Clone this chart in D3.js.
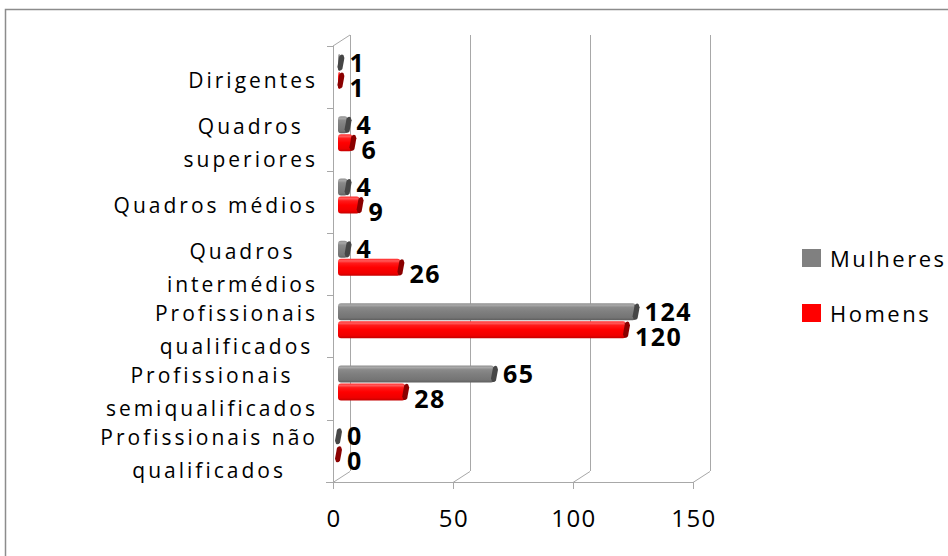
<!DOCTYPE html>
<html><head><meta charset="utf-8">
<script src="https://cdn.jsdelivr.net/npm/d3@7"></script>
<style>body{margin:0;background:#fff}svg{display:block}</style>
</head><body>
<svg id="c" width="948" height="556"></svg>
<script>
const categories = ["Dirigentes","Quadros superiores","Quadros médios","Quadros intermédios","Profissionais qualificados","Profissionais semiqualificados","Profissionais não qualificados"];
const mulheres = [1,4,4,4,124,65,0];
const homens = [1,6,9,26,120,28,0];
const xTicks = [0,50,100,150];
const seriesNames = ["Mulheres","Homens"];

const svg = d3.select("#c");
const FONT = "'Open Sans', sans-serif";
const depth = {dx:17, dy:-11};
const x = d3.scaleLinear().domain([0,150]).range([333,693]);
const y = d3.scaleBand().domain(categories).range([46,482]);
const yTop = 46, yBot = 482;

// outer border
svg.append("rect").attr("x",5.5).attr("y",9.5).attr("width",960).attr("height",560)
  .attr("fill","none").attr("stroke","#8c8c8c").attr("stroke-width",1.5);

const grid = svg.append("g").attr("stroke","#a8a8a8").attr("stroke-width",1).attr("fill","none");
xTicks.forEach(v=>{
  const xb = x(v)+depth.dx;
  grid.append("line").attr("x1",xb+0.5).attr("x2",xb+0.5).attr("y1",yTop+depth.dy).attr("y2",yBot+depth.dy);
  grid.append("line").attr("x1",x(v)).attr("y1",yBot+0.5).attr("x2",xb).attr("y2",yBot+depth.dy+0.5);
  grid.append("line").attr("x1",x(v)+0.5).attr("x2",x(v)+0.5).attr("y1",yBot).attr("y2",yBot+7);
});
grid.append("line").attr("x1",326).attr("x2",x(150)).attr("y1",yBot+0.5).attr("y2",yBot+0.5);
grid.append("line").attr("x1",x(0)+0.5).attr("x2",x(0)+0.5).attr("y1",yTop).attr("y2",yBot);
grid.append("line").attr("x1",x(0)).attr("y1",yTop).attr("x2",x(0)+depth.dx).attr("y2",yTop+depth.dy);
const bounds = categories.map(c=>y(c)).concat([yBot]);
bounds.forEach(b=>{
  grid.append("line").attr("x1",327).attr("x2",x(0)).attr("y1",Math.round(b)+0.5).attr("y2",Math.round(b)+0.5);
});

const defs = svg.append("defs");
function grad(id, stops){
  const g = defs.append("linearGradient").attr("id",id).attr("x1",0).attr("y1",0).attr("x2",0).attr("y2",1);
  stops.forEach(s=>g.append("stop").attr("offset",s[0]).attr("stop-color",s[1]));
}
grad("gGray",[[0,"#8e8e8e"],[0.12,"#a8a8a8"],[0.25,"#8a8a8a"],[0.5,"#7f7f7f"],[0.85,"#747474"],[1,"#5e5e5e"]]);
grad("gRed",[[0,"#ff2a2a"],[0.12,"#ff5a5a"],[0.25,"#ff1a1a"],[0.5,"#ff0000"],[0.85,"#ee0000"],[1,"#c40000"]]);

const series = [
  {name:seriesNames[0], values:mulheres, fill:"url(#gGray)", cap:"#464646", off:8, lab:-1, legend:"#808080"},
  {name:seriesNames[1], values:homens, fill:"url(#gRed)", cap:"#8a0000", off:26, lab:6, legend:"#ff0000"}
];
const barH = 17, barX0 = 5;
const bars = svg.append("g");
series.forEach(s=>{
  categories.forEach((c,i)=>{
    const v = s.values[i];
    const x0 = x(0)+barX0, xe = x(v)+barX0;
    const t = y(c)+s.off, b = t+barH;
    if (v>0){
      bars.append("rect").attr("x",x0).attr("y",t).attr("width",xe-x0).attr("height",barH)
        .attr("rx",3).attr("fill",s.fill);
    }
    const p = d3.path();
    p.moveTo(xe-1, t+2);
    p.quadraticCurveTo(xe+1, t-0.5, xe+3, t+1);
    p.lineTo(xe+4, t+4);
    p.lineTo(xe+2, b-2);
    p.quadraticCurveTo(xe, b+0.5, xe-2, b-1);
    p.lineTo(xe-3, b-4);
    p.closePath();
    bars.append("path").attr("d",p.toString()).attr("fill",s.cap);
    svg.append("text").attr("x",xe+9).attr("y",(t+b)/2+s.lab).attr("dominant-baseline","central")
      .attr("font-family",FONT).attr("font-weight","bold").attr("font-size",25)
      .attr("letter-spacing",1.5).attr("fill","#000").text(v);
  });
});

const labG = svg.append("g").attr("font-family",FONT).attr("font-size",21).attr("letter-spacing",3).attr("fill","#000");
function measure(str){
  const t = labG.append("text").text(str);
  const w = t.node().getComputedTextLength();
  t.remove(); return w;
}
const maxW = 235, lineH = 33, rightEdge = 318;
categories.forEach(c=>{
  const words = c.split(" ");
  const lines = [];
  let cur = "";
  words.forEach(w=>{
    const test = cur ? cur+" "+w : w;
    if (cur && measure(test) > maxW){ lines.push(cur); cur = w; } else cur = test;
  });
  lines.push(cur);
  const widths = lines.map(measure);
  const bw = d3.max(widths);
  const cx = rightEdge - bw/2;
  const cy = y(c) + y.bandwidth()/2 + 3;
  lines.forEach((l,k)=>{
    labG.append("text").attr("x",cx).attr("y",cy + (k-(lines.length-1)/2)*lineH)
      .attr("text-anchor","middle").attr("dominant-baseline","central").text(l);
  });
});

const tickG = svg.append("g").attr("font-family",FONT).attr("font-size",24).attr("letter-spacing",1.5).attr("fill","#000");
xTicks.forEach(v=>{
  tickG.append("text").attr("x",x(v)+1).attr("y",517).attr("text-anchor","middle")
    .attr("dominant-baseline","central").text(v);
});

const leg = svg.append("g").attr("font-family",FONT).attr("font-size",22).attr("letter-spacing",2.5).attr("fill","#000");
series.forEach((s,i)=>{
  const cy = 258 + i*55;
  leg.append("rect").attr("x",802).attr("y",cy-9).attr("width",19).attr("height",18).attr("fill",s.legend);
  leg.append("text").attr("x",830).attr("y",cy).attr("dominant-baseline","central").text(s.name);
});
</script>
</body></html>
